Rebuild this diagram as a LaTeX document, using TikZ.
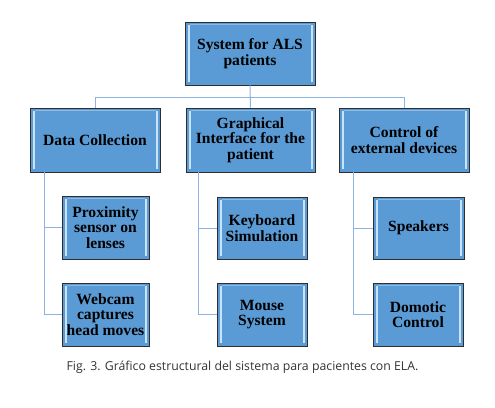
\documentclass[tikz,border=0pt]{standalone}
\usepackage{fontspec}
\setmainfont{Liberation Serif}
\newfontfamily\capfont{Open Sans}
\definecolor{boxblue}{HTML}{5B9BD5}
\definecolor{bevel}{HTML}{C9E4F8}
\definecolor{edge}{HTML}{2E2E2E}
\definecolor{connc}{HTML}{8DB3E2}
\definecolor{capc}{HTML}{333333}
\tikzset{
  bx/.style={draw=edge, line width=0.8pt, fill=boxblue, align=center,
    font=\bfseries\fontsize{15.6}{15.6}\selectfont, inner sep=1pt,
    path picture={
      \fill[bevel] ([xshift=2.5pt,yshift=-3pt]path picture bounding box.north west)
        rectangle ([xshift=4.5pt,yshift=3pt]path picture bounding box.south west);
      \fill[bevel] ([xshift=-2.5pt,yshift=-3pt]path picture bounding box.north east)
        rectangle ([xshift=-4.5pt,yshift=3pt]path picture bounding box.south east);
      \fill[boxblue!70!white] ([xshift=4.5pt,yshift=-1.5pt]path picture bounding box.north west)
        rectangle ([xshift=-4.5pt,yshift=-3pt]path picture bounding box.north east);
    }},
  conn/.style={draw=connc, line width=1pt},
}
\begin{document}
\begin{tikzpicture}[x=1pt,y=-1pt]
\useasboundingbox (0,0) rectangle (495,407);
\node[bx, minimum width=130pt, minimum height=63pt] (top) at (250,53.5) {System for ALS\\patients};
\node[bx, minimum width=130pt, minimum height=64pt] (dc) at (95,140) {Data Collection};
\node[bx, minimum width=129pt, minimum height=64pt] (gi) at (250.5,140) {Graphical\\Interface for the\\patient};
\node[bx, minimum width=130pt, minimum height=64pt] (ce) at (404,140) {Control of\\external devices};
\node[bx, minimum width=87pt, minimum height=63pt] (p1) at (105.5,227.5) {Proximity\\sensor on\\lenses};
\node[bx, minimum width=87pt, minimum height=63pt] (p2) at (105.5,314.5) {Webcam\\captures\\head moves};
\node[bx, minimum width=90pt, minimum height=62pt] (k1) at (262,228) {Keyboard\\Simulation};
\node[bx, minimum width=90pt, minimum height=63pt] (k2) at (262,314.5) {Mouse\\System};
\node[bx, minimum width=91pt, minimum height=62pt] (s1) at (418.5,228) {Speakers};
\node[bx, minimum width=90pt, minimum height=63pt] (s2) at (418,314.5) {Domotic\\Control};
\coordinate (bus) at (0,97);
\coordinate (dcl) at (44,172.4);
\coordinate (gil) at (198,172.4);
\coordinate (cel) at (353,172.4);
\draw[conn] (top.south) -- (gi.north);
\draw[conn] (dc.north) -- (dc.north |- bus) -| (ce.north);
\draw[conn] (dcl) |- (p1.west);
\draw[conn] (dcl) |- (p2.west);
\draw[conn] (gil) |- (k1.west);
\draw[conn] (gil) |- (k2.west);
\draw[conn] (cel) |- (s1.west);
\draw[conn] (cel) |- (s2.west);
\node[font=\capfont\fontsize{12.3}{14}\selectfont, text=capc, inner sep=0pt] (cap) at (242.5,367) {Fig. 3. Gráfico estructural del sistema para pacientes con ELA.};
\end{tikzpicture}
\end{document}
